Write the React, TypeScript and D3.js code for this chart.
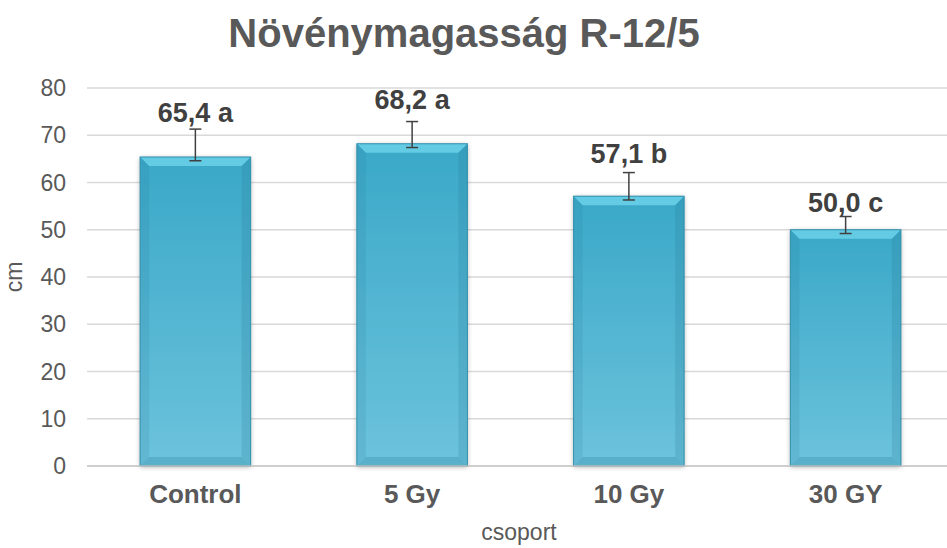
import React, { useEffect, useRef } from "react";
import * as d3 from "d3";

const groups = ["Control", "5 Gy", "10 Gy", "30 GY"];
const means = [65.4, 68.2, 57.1, 50.0];
const errUp = [5.9, 4.7, 5.0, 2.8];
const errDown = [0.8, 0.8, 0.8, 0.8];
const letters = ["a", "a", "b", "c"];
// label baseline, in cm units
const labelAt = [72.8, 75.6, 64.1, 53.8];
const yTicks = [0, 10, 20, 30, 40, 50, 60, 70, 80];

const W = 947;
const H = 548;
const margins = { top: 88, right: -7, bottom: 82, left: 87 };

const App: React.FC = () => {
    const svgRef = useRef<SVGSVGElement | null>(null);

    useEffect(() => {
        if (!svgRef.current) return;
        const svg = d3.select(svgRef.current);
        svg.selectAll("*").remove();

        const x = d3
            .scaleBand<string>()
            .domain(groups)
            .range([margins.left, W - margins.right])
            .paddingInner(0.49)
            .paddingOuter(0.245);

        const y = d3
            .scaleLinear()
            .domain([0, 80])
            .range([H - margins.bottom, margins.top]);

        const defs = svg.append("defs");
        const grad = defs
            .append("linearGradient")
            .attr("id", "barGrad")
            .attr("x1", 0)
            .attr("y1", 0)
            .attr("x2", 0)
            .attr("y2", 1);
        grad.append("stop").attr("offset", "0%").attr("stop-color", "#3aa8c8");
        grad.append("stop").attr("offset", "100%").attr("stop-color", "#6cc3dc");

        const shadow = defs
            .append("filter")
            .attr("id", "shadow")
            .attr("x", "-20%")
            .attr("y", "-20%")
            .attr("width", "140%")
            .attr("height", "140%");
        shadow
            .append("feDropShadow")
            .attr("dx", 0)
            .attr("dy", 1)
            .attr("stdDeviation", 2.5)
            .attr("flood-color", "#000")
            .attr("flood-opacity", 0.3);

        // gridlines
        svg.append("g")
            .selectAll("line")
            .data(yTicks.slice(1))
            .join("line")
            .attr("x1", margins.left)
            .attr("x2", W - margins.right)
            .attr("y1", (d) => y(d))
            .attr("y2", (d) => y(d))
            .attr("stroke", "#d9d9d9")
            .attr("stroke-width", 1.5);

        // y tick labels
        svg.append("g")
            .selectAll("text")
            .data(yTicks)
            .join("text")
            .attr("x", 66)
            .attr("y", (d) => y(d) + 8)
            .attr("text-anchor", "end")
            .attr("font-size", 23)
            .attr("fill", "#595959")
            .text((d) => d);

        // bars
        const bw = x.bandwidth();
        const bev = 9;
        const bars = svg
            .append("g")
            .selectAll("g")
            .data(groups)
            .join("g")
            .attr("transform", (d, i) => `translate(${x(d)},${y(means[i])})`);

        bars.append("rect")
            .attr("width", bw)
            .attr("height", (d, i) => y(0) - y(means[i]))
            .attr("fill", "url(#barGrad)")
            .attr("filter", "url(#shadow)");

        // bevel: top lighter, sides / bottom a touch darker
        bars.append("polygon")
            .attr("points", `0,0 ${bw},0 ${bw - bev},${bev} ${bev},${bev}`)
            .attr("fill", "#80e2f7")
            .attr("opacity", 0.6);
        bars.append("polygon")
            .attr("points", (d, i) => {
                const h = y(0) - y(means[i]);
                return `0,0 ${bev},${bev} ${bev},${h - bev} 0,${h}`;
            })
            .attr("fill", "#1f6f88")
            .attr("opacity", 0.12);
        bars.append("polygon")
            .attr("points", (d, i) => {
                const h = y(0) - y(means[i]);
                return `${bw},0 ${bw - bev},${bev} ${bw - bev},${h - bev} ${bw},${h}`;
            })
            .attr("fill", "#1f6f88")
            .attr("opacity", 0.18);
        bars.append("polygon")
            .attr("points", (d, i) => {
                const h = y(0) - y(means[i]);
                return `0,${h} ${bev},${h - bev} ${bw - bev},${h - bev} ${bw},${h}`;
            })
            .attr("fill", "#1f6f88")
            .attr("opacity", 0.22);
        bars.append("rect")
            .attr("width", bw)
            .attr("height", (d, i) => y(0) - y(means[i]))
            .attr("fill", "none")
            .attr("stroke", "#2f8fab")
            .attr("stroke-width", 1);

        // x axis line
        svg.append("line")
            .attr("x1", margins.left)
            .attr("x2", W - margins.right)
            .attr("y1", y(0))
            .attr("y2", y(0))
            .attr("stroke", "#bfbfbf")
            .attr("stroke-width", 1.5);

        // error bars
        const cx = (i: number) => (x(groups[i]) as number) + bw / 2;
        const eb = svg
            .append("g")
            .attr("stroke", "#404040")
            .attr("stroke-width", 1.5);
        groups.forEach((g, i) => {
            const top = y(means[i] + errUp[i]);
            const bot = y(means[i] - errDown[i]);
            eb.append("line").attr("x1", cx(i)).attr("x2", cx(i)).attr("y1", top).attr("y2", bot);
            eb.append("line").attr("x1", cx(i) - 6).attr("x2", cx(i) + 6).attr("y1", top).attr("y2", top);
            eb.append("line").attr("x1", cx(i) - 6).attr("x2", cx(i) + 6).attr("y1", bot).attr("y2", bot);
        });

        // value labels
        svg.append("g")
            .selectAll("text")
            .data(groups)
            .join("text")
            .attr("x", (d, i) => cx(i))
            .attr("y", (d, i) => y(labelAt[i]))
            .attr("text-anchor", "middle")
            .attr("font-size", 27)
            .attr("font-weight", "bold")
            .attr("fill", "#404040")
            .text((d, i) => `${means[i].toFixed(1).replace(".", ",")} ${letters[i]}`);

        // category labels
        svg.append("g")
            .selectAll("text")
            .data(groups)
            .join("text")
            .attr("x", (d, i) => cx(i))
            .attr("y", 503)
            .attr("text-anchor", "middle")
            .attr("font-size", 26)
            .attr("font-weight", "bold")
            .attr("fill", "#595959")
            .text((d) => d);

        // axis titles
        svg.append("text")
            .attr("x", 519)
            .attr("y", 540)
            .attr("text-anchor", "middle")
            .attr("font-size", 23)
            .attr("fill", "#595959")
            .text("csoport");

        svg.append("text")
            .attr("transform", `translate(22,${y(40)}) rotate(-90)`)
            .attr("text-anchor", "middle")
            .attr("font-size", 23)
            .attr("fill", "#595959")
            .text("cm");

        // title
        svg.append("text")
            .attr("x", 464)
            .attr("y", 47)
            .attr("text-anchor", "middle")
            .attr("font-size", 40)
            .attr("font-weight", "bold")
            .attr("fill", "#595959")
            .text("Növénymagasság R-12/5");
    }, []);

    return (
        <svg
            ref={svgRef}
            width={W}
            height={H}
            style={{ position: "absolute", left: 0, top: 0, background: "#fff", fontFamily: "'Liberation Sans', Arial, sans-serif" }}
        ></svg>
    );
};

export default App;
